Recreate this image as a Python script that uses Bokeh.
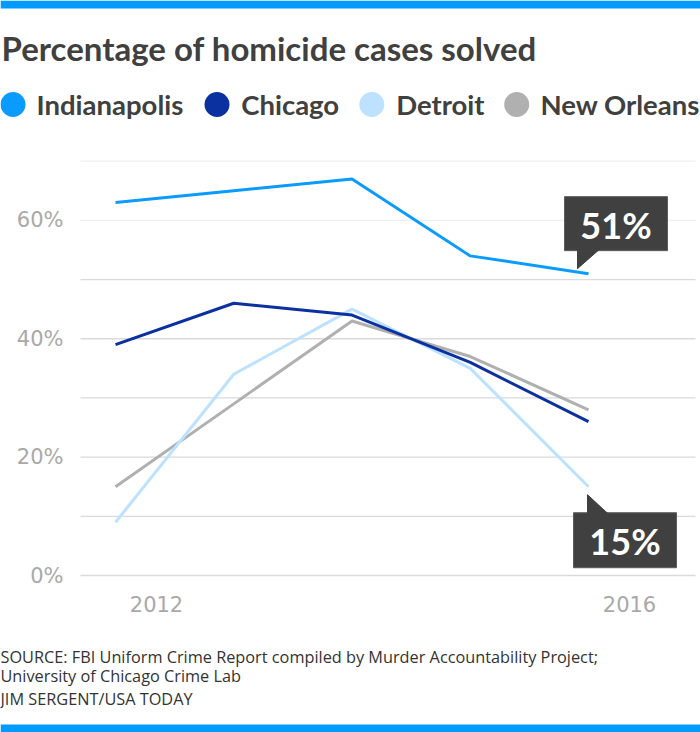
from bokeh.plotting import figure
from bokeh.models import Range1d
from bokeh.core.properties import value
from bokeh.embed import file_html
from bokeh.resources import INLINE

# ---------------- data ----------------
TITLE = "Percentage of homicide cases solved"
YEARS = [2012, 2013, 2014, 2015, 2016]
SERIES = ["Indianapolis", "Chicago", "Detroit", "New Orleans"]
COLORS = ["#0a9bff", "#0b30a0", "#bde2ff", "#b0b0b0"]
INDIANAPOLIS = [63, 65, 67, 54, 51]
CHICAGO = [39, 46, 44, 36, 26]
DETROIT = [9, 34, 45, 35, 15]
NEW_ORLEANS = [15, 29, 43, 37, 28]
Y_TICKS = [0, 20, 40, 60]
Y_TICK_LABELS = ["0%", "20%", "40%", "60%"]
Y_GRID = [0, 10, 20, 30, 40, 50]
Y_GRID_LIGHT = [60, 70]
X_TICKS = [2012, 2016]
X_TICK_LABELS = ["2012", "2016"]
CALLOUT_LABELS = ["51%", "15%"]
SOURCE_LINES = [
    "SOURCE: FBI Uniform Crime Report compiled by Murder Accountability Project;",
    "University of Chicago Crime Lab",
    "JIM SERGENT/USA TODAY",
]

# ---------------- layout ----------------
W, H = 700, 732
BAR = "#009bff"
DARK = "#404040"
TICK_COLOR = "#a9a9a9"

# data ranges chosen so the whole canvas is the plotting frame
X0, X1 = 2011.0275, 2016.9471
Y0, Y1 = -26.52, 97.145
XS = W / (X1 - X0)   # px per year
YS = H / (Y1 - Y0)   # px per percent

p = figure(width=W, height=H, x_range=Range1d(X0, X1), y_range=Range1d(Y0, Y1),
           output_backend="svg", toolbar_location=None, min_border=0,
           x_axis_location=None, y_axis_location=None, outline_line_color=None,
           background_fill_color="white", border_fill_color="white")
p.grid.visible = False
# layout range in canvas pixels (y downward) for titles, legend, notes, chart-area edges
p.extra_x_ranges = {"px": Range1d(0, W)}
p.extra_y_ranges = {"px": Range1d(H, 0)}

# bars
p.quad(left=[0, 0], right=[W, W], top=[0, 724], bottom=[8, H], color=BAR,
       line_color=None, x_range_name="px", y_range_name="px")

# title
p.text(x=[1], y=[47], text=[TITLE], text_font=value("Lato"), text_font_style="bold",
       text_font_size="33px", text_color=DARK, text_baseline="middle",
       x_range_name="px", y_range_name="px")

# legend
LEG_CIRCLE_X = [12.5, 216.5, 371.3, 516.2]
LEG_TEXT_X = [36, 240.7, 395.7, 540]
p.scatter(x=LEG_CIRCLE_X, y=[104] * 4, size=25, color=COLORS, line_color=None,
          x_range_name="px", y_range_name="px")
p.text(x=LEG_TEXT_X, y=[104] * 4, text=SERIES, text_font=value("Lato"),
       text_font_style="bold", text_font_size="27.5px", text_color=DARK,
       text_baseline="middle", x_range_name="px", y_range_name="px")

# gridlines (span the chart area, x 80..695)
n = len(Y_GRID)
p.segment(x0=[80] * n, x1=[695] * n, y0=Y_GRID, y1=Y_GRID, line_color="#dadada",
          line_width=1.3, x_range_name="px")
m = len(Y_GRID_LIGHT)
p.segment(x0=[80] * m, x1=[695] * m, y0=Y_GRID_LIGHT, y1=Y_GRID_LIGHT, line_color="#efefef",
          line_width=1.3, x_range_name="px")

# tick labels
p.text(x=[63] * len(Y_TICKS), y=Y_TICKS, text=Y_TICK_LABELS, text_font=value("DejaVu Sans"),
       text_font_size="21px", text_color=TICK_COLOR, text_align="right",
       text_baseline="middle", x_range_name="px")
p.text(x=X_TICKS, y=[0] * len(X_TICKS), text=X_TICK_LABELS, x_offset=41, y_offset=28,
       text_font=value("DejaVu Sans"), text_font_size="21px", text_color=TICK_COLOR,
       text_align="center", text_baseline="middle")

# series lines
for vals, col in [(NEW_ORLEANS, COLORS[3]), (DETROIT, COLORS[2]),
                  (CHICAGO, COLORS[1]), (INDIANAPOLIS, COLORS[0])]:
    p.line(YEARS, vals, line_color=col, line_width=3)

# callouts anchored to the last points of Indianapolis and Detroit
def px_x(xv, dx):
    return xv + dx / XS

def px_y(yv, dy):
    return yv - dy / YS

anchors = [(YEARS[-1], INDIANAPOLIS[-1]), (YEARS[-1], DETROIT[-1])]
# box (left, right, top, bottom) and pointer offsets in px relative to anchor
boxes = [(-24, 79, -77, -23), (-15, 88, 26, 81)]
pointers = [[(-11, -23.5), (10, -23.5), (-11, -5)], [(-1, 8), (-1, 26.5), (19, 26.5)]]
for (ax, ay), (l, r, t, b), tri, lab in zip(anchors, boxes, pointers, CALLOUT_LABELS):
    p.quad(left=[px_x(ax, l)], right=[px_x(ax, r)], top=[px_y(ay, t)], bottom=[px_y(ay, b)],
           fill_color=DARK, line_color="#5c5c5c", line_width=1)
    p.patch(x=[px_x(ax, d[0]) for d in tri], y=[px_y(ay, d[1]) for d in tri],
            fill_color=DARK, line_color=DARK, line_width=1)
    p.text(x=[ax], y=[ay], text=[lab], x_offset=(l + r) / 2, y_offset=(t + b) / 2 + 1,
           text_font=value("Lato"), text_font_style="bold", text_font_size="36px",
           text_color="white", text_align="center", text_baseline="middle")

# source notes
p.text(x=[0, 0, 0], y=[656.7, 675, 698.3], text=SOURCE_LINES, text_font=value("Open Sans"),
       text_font_size="16.3px", text_color="#333333", text_baseline="alphabetic",
       x_range_name="px", y_range_name="px")

open("out.html", "w").write(file_html(p, INLINE))
